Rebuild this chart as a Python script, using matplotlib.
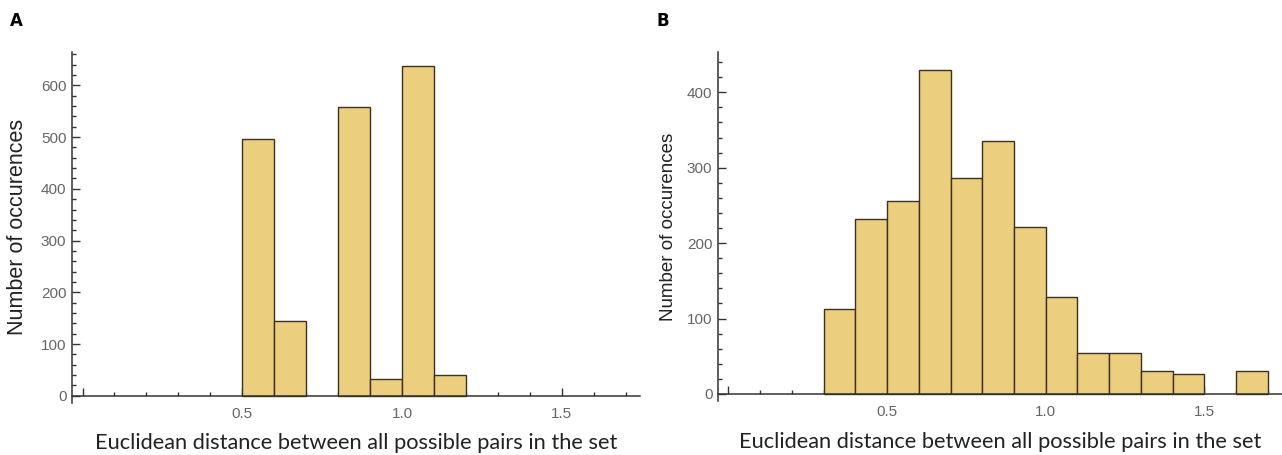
import matplotlib.pyplot as plt
from matplotlib.ticker import MultipleLocator, FuncFormatter
import numpy as np

# histogram A: bin left edges (width 0.1) and counts
edges_a = [0.5, 0.6, 0.8, 0.9, 1.0, 1.1]
counts_a = [497, 145, 558, 33, 637, 40]

# histogram B
edges_b = [0.3, 0.4, 0.5, 0.6, 0.7, 0.8, 0.9, 1.0, 1.1, 1.2, 1.3, 1.4, 1.5, 1.6]
counts_b = [113, 232, 256, 430, 287, 335, 221, 128, 55, 55, 30, 26, 0, 30]

bin_width = 0.1
x_label = 'Euclidean distance between all possible pairs in the set'
y_label = 'Number of occurences'

bar_color = '#ebcf7e'
edge_color = '#3d3020'
axis_color = '#333333'
tick_label_color = '#666666'


def draw_hist(ax, edges, counts, ylim, ylabel_size):
    e = [x for x, c in zip(edges, counts) if c > 0]
    c = [c for c in counts if c > 0]
    ax.bar(e, c, width=bin_width, align='edge', color=bar_color,
           edgecolor=edge_color, linewidth=1.0, zorder=2)
    ax.set_xlim(-0.033, 1.745)
    ax.set_ylim(*ylim)
    for s in ['top', 'right']:
        ax.spines[s].set_visible(False)
    ax.spines['bottom'].set_position(('data', 0))
    ax.spines['bottom'].set_zorder(3)
    for s in ['left', 'bottom']:
        ax.spines[s].set_color(axis_color)
        ax.spines[s].set_linewidth(1.1)
    ax.xaxis.set_major_locator(MultipleLocator(0.5))
    ax.xaxis.set_minor_locator(MultipleLocator(0.1))
    ax.yaxis.set_major_locator(MultipleLocator(100))
    ax.yaxis.set_minor_locator(MultipleLocator(20))
    ax.xaxis.set_major_formatter(FuncFormatter(lambda v, p: '' if abs(v) < 1e-9 else '%.1f' % v))
    ax.tick_params(which='both', direction='in', color=axis_color,
                   labelcolor=tick_label_color, labelsize=11)
    ax.tick_params(which='major', length=5.5, width=1.0)
    ax.tick_params(which='minor', length=3, width=1.0)
    ax.tick_params(axis='x', pad=8)
    ax.tick_params(axis='y', pad=4)
    for lbl in ax.get_xticklabels() + ax.get_yticklabels():
        lbl.set_family('Liberation Sans')
    ax.set_xlabel(x_label, fontsize=15.7, family='Lato', color='#222222', labelpad=9)
    ax.set_ylabel(y_label, fontsize=ylabel_size, family='Liberation Sans', color='#222222')


fig = plt.figure(figsize=(12.82, 4.55), dpi=100)
ax_a = fig.add_axes([72 / 1282, 52 / 455, (640 - 72) / 1282, (403.3 - 52) / 455])
ax_b = fig.add_axes([718 / 1282, 54 / 455, (1282 - 718) / 1282, (402.7 - 54) / 455])

draw_hist(ax_a, edges_a, counts_a, (-14, 665), 15.5)
draw_hist(ax_b, edges_b, counts_b, (-9.3, 453), 13.5)

ax_a.yaxis.set_label_coords(-0.077, 0.5)
ax_b.yaxis.set_label_coords(-0.073, 0.5)

fig.text(10 / 1282, 1 - 21 / 455, 'A', fontsize=12, fontweight='bold', va='center')
fig.text(656 / 1282, 1 - 21 / 455, 'B', fontsize=12, fontweight='bold', va='center')

fig.savefig('out.png', dpi=100)
